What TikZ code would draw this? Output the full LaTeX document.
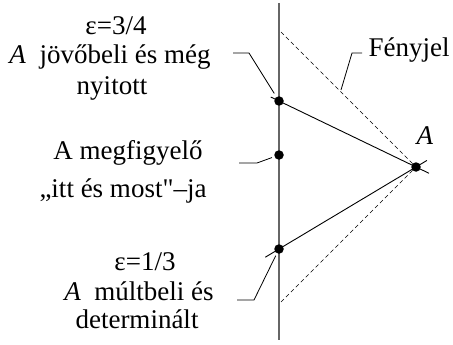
\documentclass[tikz,border=0pt]{standalone}
\usepackage{fontspec}
\setmainfont{Liberation Serif}[Ligatures=TeXOff]
\usetikzlibrary{calc}
\begin{document}
\begin{tikzpicture}[x=1pt,y=-1pt,
  axis/.style={draw=black!60,line width=1.3pt},
  world/.style={line width=0.9pt},
  light/.style={dash pattern=on 4pt off 3pt,line width=0.7pt},
  leader/.style={line width=0.8pt},
  event/.style={circle,fill=black,inner sep=0pt,minimum size=9.5pt},
  txt/.style={anchor=base,inner sep=0pt,font=\fontsize{27}{30}\selectfont}]
\useasboundingbox (0,0) rectangle (453,345);
% positions
\coordinate (P) at (279,101);
\coordinate (O) at (279,155);
\coordinate (Q) at (279,249);
\coordinate (A) at (416,167);
\coordinate (axT) at (279,3);
\coordinate (axB) at (279,340);
\coordinate (L1) at (281,32);
\coordinate (L2) at (281,302);
% world line of observer
\draw[axis] (axT) -- (axB);
% light signals
\draw[light] (L1) -- (A);
\draw[light] (L2) -- (A);
% connections to A
\draw[world] ($(P)!-0.06!(A)$) -- ($(P)!1.095!(A)$);
\draw[world] ($(Q)!-0.1!(A)$) -- ($(Q)!1.08!(A)$);
% events
\node[event] (Pd) at (P) {};
\node[event] (Od) at (O) {};
\node[event] (Qd) at (Q) {};
\node[event] (Ad) at (A) {};
% texts
\node[txt] (t11) at (116,35) {ε=3/4};
\node[txt] (t12) at (110,64) {\textit{A}\ \ jövőbeli és még};
\node[txt] (t13) at (112,95) {nyitott};
\node[txt] (t21) at (128,159) {A megfigyelő};
\node[txt] (t22) at (123,197) {„itt és most"–ja};
\node[txt] (t31) at (145,270) {ε=1/3};
\node[txt] (t32) at (139,300) {\textit{A}\ \ múltbeli és};
\node[txt] (t33) at (137,328) {determinált};
\node[txt] (F) at (409,57) {Fényjel};
\node[txt] (Alab) at (425,145) {\textit{A}};
% leaders
\coordinate (u1) at (233,53);
\coordinate (u2) at (249,53);
\draw[leader,shorten >=4pt] (u1) -- (u2) -- (Pd);
\coordinate (m1) at (239,163);
\coordinate (m2) at (257,163);
\draw[leader,shorten >=2.5pt] (m1) -- (m2) -- (Od);
\coordinate (d1) at (237,300);
\coordinate (d2) at (254,300);
\draw[leader,shorten >=2.5pt] (d1) -- (d2) -- (Qd);
\coordinate (f1) at (341,90);
\coordinate (f2) at (352,53);
\coordinate (f3) at (362,53);
\draw[leader] (f1) -- (f2) -- (f3);
\end{tikzpicture}
\end{document}
